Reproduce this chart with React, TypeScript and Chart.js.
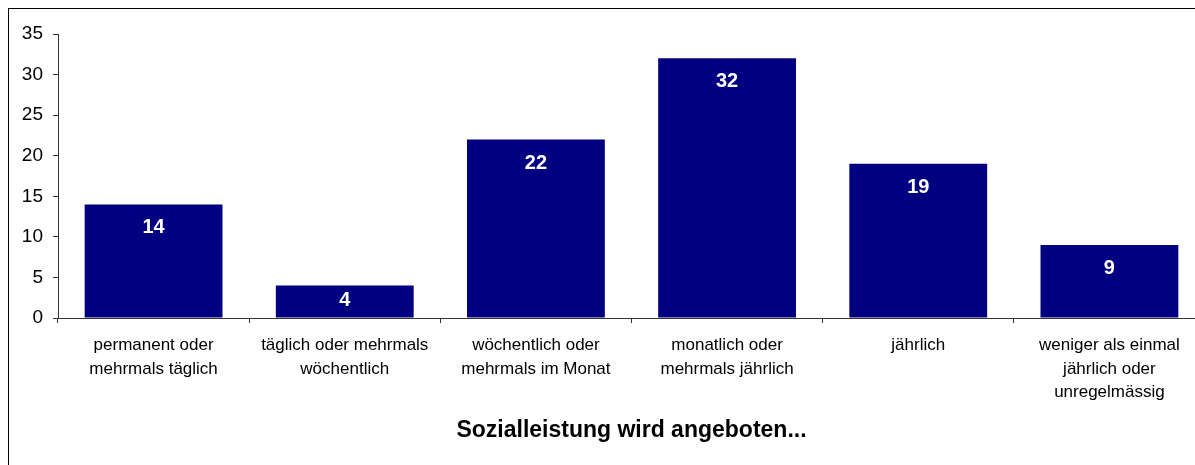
import React, { useEffect, useRef } from "react";
import { Chart, registerables } from "chart.js";

Chart.register(...registerables);

const categories: string[][] = [
  ["permanent oder", "mehrmals täglich"],
  ["täglich oder mehrmals", "wöchentlich"],
  ["wöchentlich oder", "mehrmals im Monat"],
  ["monatlich oder", "mehrmals jährlich"],
  ["jährlich"],
  ["weniger als einmal", "jährlich oder", "unregelmässig"],
];
const values: number[] = [14, 4, 22, 32, 19, 9];
const yMin = 0;
const yMax = 35;
const yStep = 5;
const xTitle = "Sozialleistung wird angeboten...";

const FONT = "'Liberation Sans', Arial, sans-serif";

const valueLabels = {
  id: "valueLabels",
  afterDatasetsDraw(chart: any) {
    const ctx = chart.ctx;
    const meta = chart.getDatasetMeta(0);
    ctx.save();
    ctx.fillStyle = "#ffffff";
    ctx.font = `bold 20px ${FONT}`;
    ctx.textAlign = "center";
    ctx.textBaseline = "middle";
    meta.data.forEach((bar: any, i: number) => {
      const p = bar.getProps(["x", "y", "base"], true);
      const off = Math.min(23.5, (p.base - p.y) / 2 - 1);
      ctx.fillText(String(values[i]), p.x, p.y + off);
    });
    ctx.restore();
  },
};

export default function App() {
  const ref = useRef<HTMLCanvasElement>(null);
  useEffect(() => {
    if (!ref.current) return;
    const chart = new Chart(ref.current, {
      type: "bar",
      data: {
        labels: categories,
        datasets: [
          {
            data: values,
            backgroundColor: "#000080",
            borderWidth: 0,
            barPercentage: 0.721,
            categoryPercentage: 1,
          },
        ],
      },
      options: {
        animation: false,
        responsive: false,
        events: [],
        layout: { padding: { left: 0, top: 25, right: 9, bottom: 0 } },
        plugins: {
          legend: { display: false },
          tooltip: { enabled: false },
          title: { display: false },
        },
        scales: {
          x: {
            type: "category",
            grid: {
              display: true,
              drawOnChartArea: false,
              drawTicks: true,
              tickLength: 5,
              color: "#333",
              offset: true,
            },
            border: { display: true, color: "#333", width: 1 },
            ticks: {
              color: "#000",
              padding: 11,
              maxRotation: 0,
              minRotation: 0,
              autoSkip: false,
              font: { family: FONT, size: 17, lineHeight: 1.37 },
            },
            title: {
              display: true,
              text: xTitle,
              color: "#000",
              font: { family: FONT, size: 23, weight: "bold", lineHeight: 1.2 },
              padding: { top: 0, bottom: 25 },
            },
            afterFit: (s: any) => {
              s.height = 151;
            },
          },
          y: {
            min: yMin,
            max: yMax,
            grid: {
              display: true,
              drawOnChartArea: false,
              drawTicks: true,
              tickLength: 5,
              color: "#333",
            },
            border: { display: true, color: "#333", width: 1 },
            ticks: {
              stepSize: yStep,
              color: "#000",
              padding: 10,
              font: { family: FONT, size: 19 },
            },
            afterFit: (s: any) => {
              s.width = 49;
            },
          },
        },
      },
      plugins: [valueLabels],
    });
    return () => chart.destroy();
  }, []);

  return (
    <div
      style={{
        position: "fixed",
        left: 8,
        top: 8,
        width: 1300,
        height: 500,
        borderLeft: "1px solid #000",
        borderTop: "1px solid #000",
        background: "#fff",
      }}
    >
      <canvas
        ref={ref}
        width={1205}
        height={460}
        style={{ display: "block", width: 1205, height: 460 }}
      />
    </div>
  );
}
